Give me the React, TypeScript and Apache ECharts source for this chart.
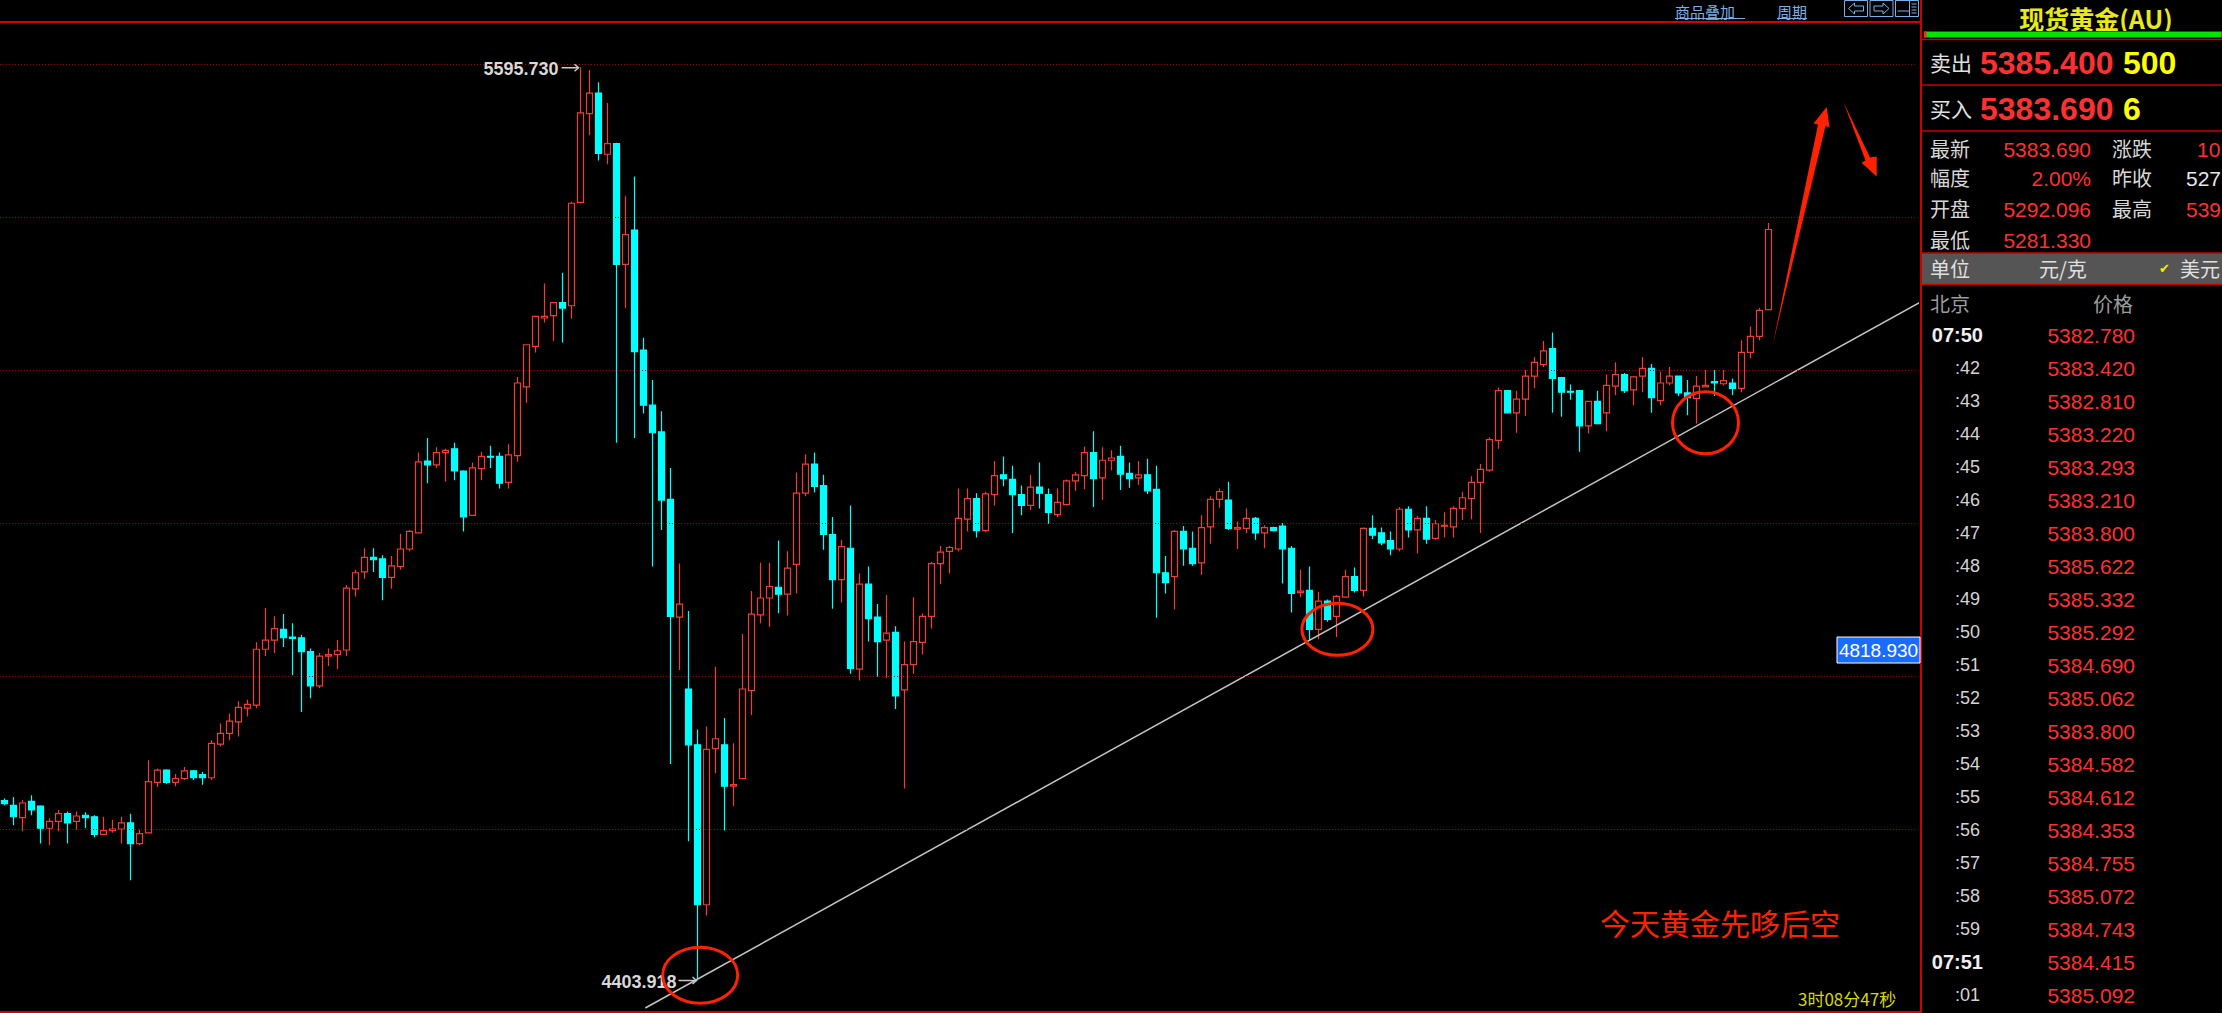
import React, { useEffect, useRef } from "react";
import * as echarts from "echarts";

// ---- candle data (open / close / low / high), one entry per bar ----
const opens = [
  4637, 4631, 4615, 4636, 4630, 4601, 4610, 4620, 4610, 4618, 4616, 4593, 4598, 4600, 4608, 4581, 4595, 4661, 4677, 4661,
  4666, 4676, 4671, 4667, 4711, 4725, 4740, 4758, 4762, 4835, 4847, 4861, 4851, 4850, 4832, 4787, 4826, 4828, 4834, 4914,
  4936, 4955, 4953, 4929, 4943, 4966, 4987, 5081, 5076, 5092, 5097, 5068, 5010, 5071, 5087, 5087, 5053, 5088, 5178, 5231,
  5268, 5271, 5288, 5284, 5419, 5535, 5562, 5482, 5496, 5338, 5383, 5226, 5154, 5119, 5031, 4877, 4783, 4710, 4501, 4705,
  4710, 4656, 4666, 4781, 4880, 4902, 4916, 4907, 4946, 5039, 5077, 5049, 4985, 4926, 4967, 4809, 4920, 4877, 4847, 4857,
  4782, 4815, 4844, 4878, 4947, 4963, 4966, 5005, 5032, 4990, 5037, 5063, 5057, 5037, 5023, 5047, 5037, 5011, 5024, 5055,
  5062, 5092, 5059, 5082, 5087, 5065, 5059, 5063, 5044, 4935, 4930, 4989, 4967, 4948, 4995, 5031, 5030, 4992, 4993, 5006,
  4987, 4994, 4996, 4967, 4909, 4912, 4861, 4898, 4878, 4903, 4930, 4912, 4993, 4987, 4977, 4966, 5018, 4991, 5006, 4980,
  4996, 4995, 5019, 5032, 5053, 5069, 5108, 5173, 5144, 5162, 5192, 5207, 5228, 5190, 5172, 5173, 5127, 5159, 5144, 5179,
  5194, 5174, 5192, 5202, 5160, 5183, 5192, 5170, 5163, 5178, 5185, 5182, 5183, 5176, 5223, 5244, 5279,
];
const closes = [
  4633, 4616, 4634, 4625, 4601, 4610, 4620, 4608, 4617, 4615, 4593, 4598, 4600, 4608, 4581, 4594, 4662, 4677, 4661, 4666,
  4676, 4667, 4667, 4712, 4725, 4741, 4759, 4763, 4835, 4847, 4862, 4850, 4849, 4832, 4787, 4826, 4828, 4833, 4915, 4935,
  4955, 4952, 4929, 4944, 4966, 4989, 5080, 5076, 5092, 5095, 5068, 5008, 5072, 5087, 5086, 5052, 5089, 5183, 5233, 5270,
  5270, 5288, 5281, 5418, 5536, 5562, 5483, 5496, 5338, 5377, 5224, 5154, 5118, 5030, 4878, 4894, 4710, 4501, 4704, 4718,
  4656, 4658, 4783, 4881, 4902, 4917, 4907, 4941, 5039, 5077, 5048, 4985, 4926, 4969, 4810, 4920, 4875, 4845, 4856, 4774,
  4815, 4845, 4878, 4947, 4962, 4968, 5006, 5032, 4990, 5038, 5062, 5058, 5037, 5023, 5047, 5039, 5014, 5027, 5055, 5063,
  5092, 5058, 5082, 5085, 5064, 5058, 5063, 5042, 4935, 4922, 4989, 4966, 4947, 4994, 5031, 5041, 4993, 4994, 5006, 4987,
  4994, 4990, 4966, 4908, 4911, 4861, 4898, 4874, 4904, 4930, 4912, 4993, 4984, 4974, 4966, 5018, 4991, 5006, 4979, 4999,
  4997, 5019, 5033, 5053, 5070, 5109, 5173, 5144, 5162, 5192, 5210, 5225, 5189, 5171, 5171, 5127, 5159, 5130, 5180, 5194,
  5173, 5191, 5202, 5164, 5183, 5192, 5170, 5164, 5179, 5180, 5183, 5186, 5176, 5223, 5244, 5278, 5383.69,
];
const lows = [
  4631, 4605, 4597, 4618, 4581, 4579, 4597, 4581, 4599, 4601, 4589, 4592, 4595, 4581, 4533, 4579, 4594, 4655, 4659, 4656,
  4664, 4664, 4658, 4664, 4708, 4716, 4721, 4747, 4758, 4826, 4830, 4838, 4801, 4753, 4771, 4784, 4813, 4809, 4826, 4904,
  4927, 4936, 4899, 4914, 4939, 4963, 4987, 5052, 5072, 5054, 5056, 4989, 5009, 5056, 5072, 5045, 5045, 5080, 5157, 5223,
  5262, 5238, 5236, 5267, 5418, 5507, 5474, 5469, 5105, 5281, 5111, 5143, 4943, 4991, 4685, 4808, 4584, 4403.918, 4487, 4673,
  4598, 4630, 4665, 4749, 4869, 4864, 4882, 4879, 4908, 5035, 5040, 4965, 4888, 4896, 4803, 4794, 4845, 4799, 4797, 4757,
  4653, 4803, 4828, 4862, 4920, 4934, 4963, 4989, 4981, 4988, 5023, 5048, 4987, 5010, 5017, 5019, 4999, 5008, 5023, 5042,
  5044, 5021, 5030, 5069, 5043, 5046, 5050, 5038, 4876, 4908, 4887, 4944, 4944, 4932, 4973, 5020, 4991, 4966, 4987, 4978,
  4967, 4989, 4921, 4883, 4903, 4847, 4848, 4871, 4851, 4903, 4909, 4904, 4979, 4971, 4958, 4963, 4981, 4960, 4973, 4978,
  4981, 4981, 5004, 5005, 4987, 5067, 5097, 5143, 5118, 5140, 5176, 5204, 5144, 5139, 5161, 5093, 5117, 5129, 5120, 5167,
  5170, 5154, 5171, 5144, 5154, 5180, 5166, 5141, 5130, 5177, 5166, 5180, 5167, 5171, 5215, 5239, 5279,
];
const highs = [
  4640, 4642, 4638, 4644, 4631, 4614, 4625, 4623, 4623, 4622, 4618, 4616, 4612, 4616, 4620, 4599, 4690, 4679, 4678, 4672,
  4681, 4677, 4675, 4716, 4738, 4751, 4767, 4769, 4844, 4889, 4878, 4881, 4869, 4854, 4836, 4830, 4836, 4847, 4919, 4939,
  4967, 4967, 4958, 4957, 4986, 4991, 5092, 5111, 5099, 5097, 5105, 5069, 5079, 5093, 5101, 5092, 5103, 5191, 5233, 5271,
  5313, 5289, 5327, 5420, 5595.73, 5592, 5576, 5549, 5497, 5427, 5453, 5242, 5187, 5146, 5072, 4947, 4885, 4730, 4734, 4812,
  4745, 4712, 4855, 4911, 4948, 4948, 4977, 4963, 5066, 5090, 5092, 5063, 5008, 4978, 5023, 4934, 4943, 4894, 4906, 4865,
  4845, 4903, 4882, 4949, 4970, 4970, 5045, 5045, 5039, 5041, 5081, 5087, 5075, 5049, 5063, 5079, 5045, 5045, 5057, 5067,
  5100, 5120, 5099, 5095, 5101, 5079, 5081, 5084, 5075, 4957, 4991, 4996, 4989, 5010, 5035, 5045, 5054, 5002, 5019, 5008,
  4997, 4995, 5000, 4970, 4939, 4943, 4910, 4900, 4906, 4939, 4942, 4994, 5010, 4994, 4989, 5021, 5022, 5009, 5022, 5004,
  5014, 5022, 5041, 5061, 5077, 5112, 5177, 5173, 5173, 5200, 5217, 5238, 5249, 5190, 5181, 5173, 5159, 5173, 5194, 5210,
  5196, 5191, 5217, 5208, 5198, 5204, 5192, 5187, 5192, 5200, 5200, 5200, 5189, 5239, 5257, 5281, 5392,
];

const slotCount = 213; // bar slots across the plot (bars + empty room on the right)
const gridLevels = [5600, 5400, 5200, 5000, 4800, 4600];
const trendLine = [
  [71.2, 4366],
  [212.9, 5289],
];
const highMark = { index: 64, price: 5595.73, label: "5595.730" };
const lowMark = { index: 77, price: 4403.918, label: "4403.918" };
const cursorPrice = 4818.93;
const cursorLabel = "4818.930";
const circleCenters = [
  [77.3, 4409],
  [148.1, 4861],
  [189.0, 5131],
];
const circleRadii = [
  [37.5, 28],
  [35.5, 26],
  [33, 31],
];

// ---- quote panel ----
const quoteTitle = "现货黄金(AU)";
const askRow = ["卖出", "5385.400", "500"];
const bidRow = ["买入", "5383.690", "6"];
const statLabelsA = ["最新", "幅度", "开盘", "最低"];
const statValuesA = ["5383.690", "2.00%", "5292.096", "5281.330"];
const statLabelsB = ["涨跌", "昨收", "最高", ""];
const statValuesB = ["10", "527", "539", ""];
const tickTimes = [
  "07:50", ":42", ":43", ":44", ":45", ":46", ":47", ":48", ":49", ":50", ":51",
  ":52", ":53", ":54", ":55", ":56", ":57", ":58", ":59", "07:51", ":01",
];
const tickPrices = [
  "5382.780", "5383.420", "5382.810", "5383.220", "5383.293", "5383.210", "5383.800",
  "5385.622", "5385.332", "5385.292", "5384.690", "5385.062", "5383.800", "5384.582",
  "5384.612", "5384.353", "5384.755", "5385.072", "5384.743", "5384.415", "5385.092",
];
const noteText = "今天黄金先哆后空";
const timerText = "3时08分47秒";

const Y_MIN = 4360.8;
const Y_MAX = 5654.9;

const RED = "#ff3030";
const UP = "#f23c32";
const DOWN = "#00ffff";
const PANEL_RED = "#c80000";
const ANNO = "#ff2200";
const LATIN = "'Liberation Sans', Arial, sans-serif";
const CJK = "'Noto Sans CJK SC', sans-serif";

function txt(
  text: string,
  x: number,
  y: number,
  size: number,
  color: string,
  opt: { family?: string; weight?: string; align?: string } = {}
) {
  return {
    type: "text",
    x,
    y,
    z: 100,
    silent: true,
    style: {
      text,
      fill: color,
      fontSize: size,
      fontFamily: opt.family || LATIN,
      fontWeight: opt.weight || "normal",
      align: opt.align || "left",
      verticalAlign: "middle",
    },
  };
}

function hline(x1: number, x2: number, y: number, color: string, w: number) {
  return { type: "line", z: 100, silent: true, shape: { x1, y1: y, x2, y2: y }, style: { stroke: color, lineWidth: w } };
}

export default function App() {
  const ref = useRef<HTMLDivElement>(null);

  useEffect(() => {
    const chart = echarts.init(ref.current!, null, { renderer: "svg" });
    const candleData = opens.map((o, i) => [o, closes[i], lows[i], highs[i]]);
    const cats = Array.from({ length: slotCount }, (_, i) => String(i));

    chart.setOption({
      animation: false,
      backgroundColor: "#000",
      grid: { left: 0, top: 22, width: 1917, height: 990 },
      xAxis: [
        { type: "category", data: cats, show: false, boundaryGap: true },
        { type: "value", min: -0.5, max: slotCount - 0.5, show: false },
      ],
      yAxis: { type: "value", min: Y_MIN, max: Y_MAX, show: false, splitLine: { show: false } },
      series: [
        {
          type: "candlestick",
          data: candleData,
          barWidth: 7,
          itemStyle: {
            color: "#000",
            color0: DOWN,
            borderColor: UP,
            borderColor0: DOWN,
            borderWidth: 1.2,
          },
          markLine: {
            silent: true,
            symbol: ["none", "none"],
            label: { show: false },
            lineStyle: { color: "#a00000", type: [1, 2], width: 1 },
            data: gridLevels.map((v) => ({ yAxis: v })),
          },
        },
        {
          type: "line",
          xAxisIndex: 1,
          data: trendLine,
          symbol: "none",
          silent: true,
          lineStyle: { color: "#c4c4c4", width: 1.5 },
          z: 3,
        },
      ],
    });

    const px = (x: number, y: number) => chart.convertToPixel({ seriesIndex: 1 }, [x, y]) as number[];

    const g: any[] = [];

    // frame lines
    g.push(hline(0, 1921, 22, "#d00000", 2));
    g.push(hline(0, 1921, 1012, "#d00000", 2));
    g.push({ type: "line", z: 100, silent: true, shape: { x1: 1921, y1: 0, x2: 1921, y2: 1013 }, style: { stroke: "#d00000", lineWidth: 2 } });

    // top toolbar
    g.push(txt("商品叠加", 1675, 11, 15, "#7ab0ea", { family: CJK }));
    g.push(hline(1675, 1745, 18.5, "#7ab0ea", 1));
    g.push(txt("周期", 1777, 11, 15, "#7ab0ea", { family: CJK }));
    g.push(hline(1777, 1807, 18.5, "#7ab0ea", 1));
    [1844.5, 1870, 1895.5].forEach((bx, k) => {
      g.push({ type: "rect", z: 100, silent: true, shape: { x: bx, y: 0.5, width: 23, height: 16 }, style: { fill: "none", stroke: "#7ab0ea", lineWidth: 1 } });
      if (k < 2) {
        g.push({
          type: "polyline", z: 100, silent: true,
          shape: {
            points: k === 0
              ? [[bx + 19, 6], [bx + 10, 6], [bx + 10, 3], [bx + 4, 8.5], [bx + 10, 14], [bx + 10, 11], [bx + 19, 11], [bx + 19, 6]]
              : [[bx + 4, 6], [bx + 13, 6], [bx + 13, 3], [bx + 19, 8.5], [bx + 13, 14], [bx + 13, 11], [bx + 4, 11], [bx + 4, 6]],
          },
          style: { stroke: "#7ab0ea", lineWidth: 1, fill: "none" },
        });
      } else {
        g.push({ type: "line", z: 100, silent: true, shape: { x1: bx + 14, y1: 1, x2: bx + 14, y2: 16 }, style: { stroke: "#7ab0ea", lineWidth: 1 } });
        g.push(hline(bx + 2, bx + 14, 11, "#7ab0ea", 1));
        [4, 7, 10, 13].forEach((yy) => g.push(hline(bx + 16, bx + 21, yy, "#7ab0ea", 1)));
      }
    });

    // quote panel
    g.push(txt(quoteTitle, 2096, 18, 25, "#e8e81a", { family: CJK, weight: "bold", align: "center" }));
    g.push({ type: "rect", z: 100, silent: true, shape: { x: 1924, y: 31.5, width: 298, height: 6 }, style: { fill: "#00e400", stroke: PANEL_RED, lineWidth: 1 } });
    g.push({ type: "rect", z: 101, silent: true, shape: { x: 1924, y: 31.5, width: 2.5, height: 6 }, style: { fill: "#ff2020" } });
    g.push(hline(1922, 2222, 39.5, PANEL_RED, 1.5));
    g.push(hline(1922, 2222, 85, PANEL_RED, 1.5));
    g.push(hline(1922, 2222, 131, PANEL_RED, 1.5));

    g.push(txt(askRow[0], 1930, 62, 21, "#e0e0e0", { family: CJK }));
    g.push(txt(askRow[1], 1980, 63, 32, RED, { weight: "bold" }));
    g.push(txt(askRow[2], 2123, 63, 32, "#ffff00", { weight: "bold" }));
    g.push(txt(bidRow[0], 1930, 108, 21, "#e0e0e0", { family: CJK }));
    g.push(txt(bidRow[1], 1980, 109, 32, RED, { weight: "bold" }));
    g.push(txt(bidRow[2], 2123, 109, 32, "#ffff00", { weight: "bold" }));

    const statY = [148, 177.5, 208.5, 239];
    const statBX = [2197, 2186, 2186, 2186];
    const statBColor = [RED, "#e8e8e8", RED, RED];
    statY.forEach((yy, k) => {
      g.push(txt(statLabelsA[k], 1930, yy, 20, "#d8d8d8", { family: CJK }));
      g.push(txt(statValuesA[k], 2091, yy + 1, 21, RED, { align: "right" }));
      if (statLabelsB[k]) g.push(txt(statLabelsB[k], 2112, yy, 20, "#d8d8d8", { family: CJK }));
      if (statValuesB[k]) g.push(txt(statValuesB[k], statBX[k], yy + 1, 21, statBColor[k]));
    });

    g.push({ type: "rect", z: 99, silent: true, shape: { x: 1922, y: 253, width: 300, height: 31 }, style: { fill: "#555555" } });
    g.push(hline(1922, 2222, 253, PANEL_RED, 1.5));
    g.push(hline(1922, 2222, 284.5, PANEL_RED, 1.5));
    g.push(txt("单位", 1930, 268.5, 20, "#e0e0e0", { family: CJK }));
    g.push(txt("元/克", 2039, 268.5, 20, "#e0e0e0", { family: CJK }));
    g.push(txt("✔", 2159, 268.5, 13, "#f0f000", { family: "'DejaVu Sans', sans-serif" }));
    g.push(txt("美元", 2180, 268.5, 20, "#e0e0e0", { family: CJK }));

    g.push(txt("北京", 1930, 303.5, 20, "#9c9c9c", { family: CJK }));
    g.push(txt("价格", 2093, 303.5, 20, "#9c9c9c", { family: CJK }));

    tickTimes.forEach((t, k) => {
      const yy = 335 + 33 * k;
      const major = t.length > 3;
      if (major) g.push(txt(t, 1983, yy, 20, "#f0f0f0", { weight: "bold", align: "right" }));
      else g.push(txt(t, 1980, yy, 18, "#d4d4d4", { align: "right" }));
      g.push(txt(tickPrices[k], 2135, yy, 21, RED, { align: "right" }));
    });

    // chart annotations
    const hp = px(highMark.index, highMark.price);
    g.push(txt(highMark.label, hp[0] - 22, hp[1] + 1.5, 18, "#d8d8d8", { weight: "bold", align: "right" }));
    g.push(hline(hp[0] - 19, hp[0] - 2, hp[1] + 0.5, "#c8c8c8", 1.5));
    g.push({ type: "polyline", z: 100, silent: true, shape: { points: [[hp[0] - 6, hp[1] - 3], [hp[0] - 2, hp[1] + 0.5], [hp[0] - 6, hp[1] + 4]] }, style: { stroke: "#c8c8c8", lineWidth: 1.5, fill: "none" } });

    const lp = px(lowMark.index, lowMark.price);
    g.push(txt(lowMark.label, lp[0] - 21, lp[1] + 2.5, 18, "#d8d8d8", { weight: "bold", align: "right" }));
    g.push(hline(lp[0] - 19, lp[0] - 1, lp[1] + 1.5, "#c8c8c8", 1.5));
    g.push({ type: "polyline", z: 100, silent: true, shape: { points: [[lp[0] - 5, lp[1] - 2], [lp[0] - 1, lp[1] + 1.5], [lp[0] - 5, lp[1] + 5]] }, style: { stroke: "#c8c8c8", lineWidth: 1.5, fill: "none" } });

    const cp = px(0, cursorPrice);
    g.push({ type: "rect", z: 100, silent: true, shape: { x: 1837, y: cp[1] - 24.5, width: 83, height: 26 }, style: { fill: "#1a6cff", stroke: "#ffffff", lineWidth: 1 } });
    g.push(txt(cursorLabel, 1878.5, cp[1] - 11, 19, "#ffffff", { align: "center" }));

    circleCenters.forEach((c, k) => {
      const p = px(c[0], c[1]);
      g.push({ type: "ellipse", z: 100, silent: true, shape: { cx: p[0], cy: p[1], rx: circleRadii[k][0], ry: circleRadii[k][1] }, style: { fill: "none", stroke: ANNO, lineWidth: 3 } });
    });

    // hand-drawn arrows
    g.push({
      type: "polygon", z: 100, silent: true,
      shape: { points: [[1772.7, 345], [1825.5, 126], [1829.5, 127.5], [1826.7, 107], [1813.5, 123.5], [1818, 124.5]] },
      style: { fill: ANNO },
    });
    g.push({
      type: "polygon", z: 100, silent: true,
      shape: { points: [[1843.3, 101.7], [1870, 157.5], [1876.7, 156.5], [1876.7, 176.5], [1861.5, 162.7], [1865.5, 160.5]] },
      style: { fill: ANNO },
    });

    g.push(txt(noteText, 1600, 922, 30, ANNO, { family: CJK }));
    g.push(txt(timerText, 1798, 998, 17, "#d8d800", { family: CJK }));

    chart.setOption({ graphic: { elements: g } });

    return () => chart.dispose();
  }, []);

  return (
    <div
      ref={ref}
      style={{ position: "fixed", left: 0, top: 0, width: 2222, height: 1013, background: "#000" }}
    />
  );
}
